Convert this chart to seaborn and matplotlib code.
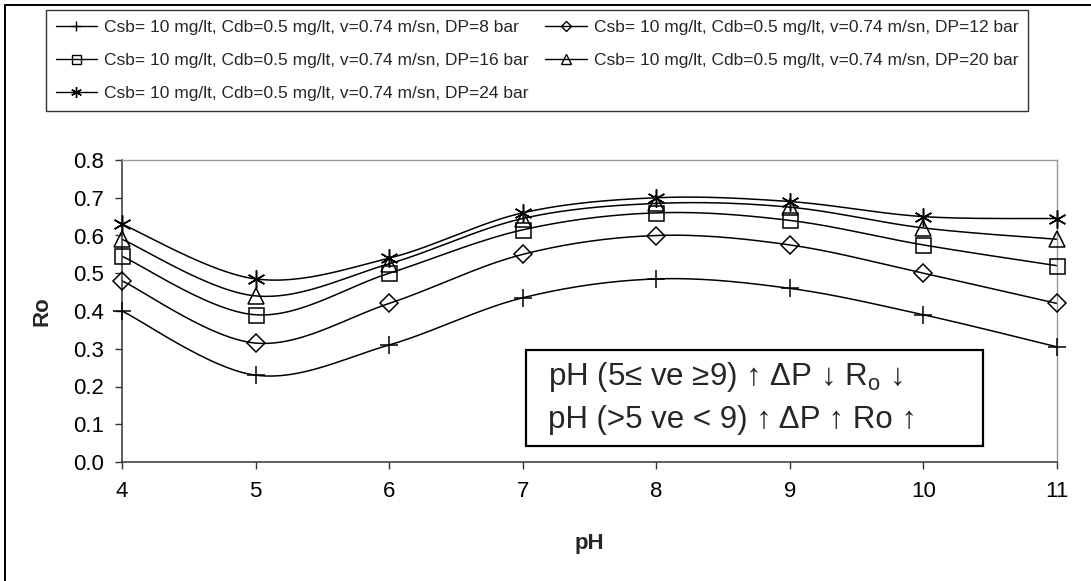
import numpy as np
import matplotlib
matplotlib.use("Agg")
import matplotlib.pyplot as plt
from matplotlib.lines import Line2D
from matplotlib.patches import Rectangle
import seaborn as sns

# pH values on the x axis
ph = [4, 5, 6, 7, 8, 9, 10, 11]

# Rejection ratio Ro for each pressure difference
ro_dp8 = [0.40, 0.23, 0.31, 0.435, 0.485, 0.46, 0.39, 0.305]
ro_dp12 = [0.48, 0.315, 0.42, 0.55, 0.60, 0.575, 0.50, 0.42]
ro_dp16 = [0.545, 0.39, 0.50, 0.615, 0.66, 0.64, 0.575, 0.52]
ro_dp20 = [0.59, 0.44, 0.525, 0.645, 0.685, 0.675, 0.62, 0.59]
ro_dp24 = [0.63, 0.485, 0.54, 0.66, 0.70, 0.69, 0.65, 0.645]

series_labels = [
    "Csb= 10 mg/lt, Cdb=0.5 mg/lt, v=0.74 m/sn, DP=8 bar",
    "Csb= 10 mg/lt, Cdb=0.5 mg/lt, v=0.74 m/sn, DP=12 bar",
    "Csb= 10 mg/lt, Cdb=0.5 mg/lt, v=0.74 m/sn, DP=16 bar",
    "Csb= 10 mg/lt, Cdb=0.5 mg/lt, v=0.74 m/sn, DP=20 bar",
    "Csb= 10 mg/lt, Cdb=0.5 mg/lt, v=0.74 m/sn, DP=24 bar",
]
series_values = [ro_dp8, ro_dp12, ro_dp16, ro_dp20, ro_dp24]

x_label = "pH"
y_label = "Ro"
note_line1 = "pH (5\u2264 ve \u22659) \u2191 \u0394P \u2193 R$_\\mathregular{o}$ \u2193"
note_line2 = "pH (>5 ve < 9) \u2191 \u0394P \u2191 Ro \u2191"

# marker style and size (pt) per series
marker_specs = [("+", 13.0), ("D", 9.2), ("s", 10.8), ("^", 11.5), ((6, 2, 0), 13.0)]

sns.set_style("white")
plt.rcParams["font.family"] = ["Liberation Sans", "DejaVu Sans"]
plt.rcParams["mathtext.fontset"] = "custom"
plt.rcParams["mathtext.rm"] = "Liberation Sans"


def smooth_curve(x, y, n=30):
    """Cubic Bezier smoothing through every point (spreadsheet-style smoothed line)."""
    pts = np.column_stack([x, y]).astype(float)
    P = np.vstack([pts[0], pts, pts[-1]])
    out = []
    t = np.linspace(0, 1, n)[:, None]
    for i in range(1, len(P) - 2):
        p0, p1, p2, p3 = P[i - 1], P[i], P[i + 1], P[i + 2]
        c1 = p1 + (p2 - p0) / 6.0
        c2 = p2 - (p3 - p1) / 6.0
        seg = (1 - t) ** 3 * p1 + 3 * (1 - t) ** 2 * t * c1 + 3 * (1 - t) * t ** 2 * c2 + t ** 3 * p2
        out.append(seg if i == 1 else seg[1:])
    return np.vstack(out)


W, H = 1091, 581
fig = plt.figure(figsize=(W / 100, H / 100), dpi=100)
ax = fig.add_axes([122 / W, 1 - 462 / H, (1057 - 122) / W, (462 - 160) / H])

line_w = 1.1
for vals, (mk, ms) in zip(series_values, marker_specs):
    curve = smooth_curve(ph, vals)
    sns.lineplot(x=curve[:, 0], y=curve[:, 1], sort=False, estimator=None,
                 color="black", linewidth=line_w, ax=ax, legend=False)
    sns.lineplot(x=ph, y=vals, sort=False, estimator=None, color="black",
                 linestyle="", marker=mk, markersize=ms, markerfacecolor="none",
                 markeredgecolor="black", markeredgewidth=1.1, ax=ax,
                 legend=False, clip_on=False, zorder=4)

ax.set_xlim(4, 11)
ax.set_ylim(0, 0.8)
ax.set_xticks(ph)
ax.set_yticks(np.arange(0, 0.81, 0.1))
ax.set_yticklabels([f"{v:.1f}" for v in np.arange(0, 0.81, 0.1)])
ax.tick_params(axis="both", direction="out", length=5, width=1.0, color="#333333",
               labelsize=16, labelcolor="black", left=True, bottom=True)
ax.tick_params(axis="x", pad=9)
ax.tick_params(axis="y", pad=8)

for side in ["left", "bottom"]:
    ax.spines[side].set_color("#333333")
    ax.spines[side].set_linewidth(1.1)
for side in ["top", "right"]:
    ax.spines[side].set_color("#999999")
    ax.spines[side].set_linewidth(1.0)

ax.set_xlabel(x_label, fontsize=16, fontweight="bold", labelpad=22)
ax.set_ylabel(y_label, fontsize=16, fontweight="bold", labelpad=15)

# annotation box
ax.add_patch(Rectangle((0.4321, 0.053), 0.9209 - 0.4321, 0.3709 - 0.053,
                       transform=ax.transAxes, fill=False, edgecolor="black",
                       linewidth=1.6, zorder=5))
ax.text(0.4556, 0.2815, note_line1, transform=ax.transAxes, fontsize=22.5,
        va="center", ha="left", zorder=6)
ax.text(0.4556, 0.139, note_line2, transform=ax.transAxes, fontsize=22.5,
        va="center", ha="left", zorder=6)

# legend, filled row by row (two columns)
handles = []
for (mk, ms) in marker_specs:
    handles.append(Line2D([], [], color="black", linewidth=1.0, marker=mk,
                          markersize=ms * 0.6, markerfacecolor="none",
                          markeredgecolor="black", markeredgewidth=1.0))
order = [0, 2, 4, 1, 3]
leg = fig.legend([handles[i] for i in order], [series_labels[i] for i in order],
                 ncol=2, loc="upper left",
                 bbox_to_anchor=(46 / W, 1 - 10 / H, (1028 - 46) / W, 0.0),
                 bbox_transform=fig.transFigure, mode="expand", borderaxespad=0,
                 fontsize=12.5, frameon=True, fancybox=False, edgecolor="black",
                 handlelength=2.4, handletextpad=0.4, labelspacing=1.05,
                 borderpad=0.55, columnspacing=0.6)
leg.get_frame().set_linewidth(1.0)

# outer chart frame
fig.patches.append(Rectangle((5 / W, -0.1), 1.2, 1 - 5 / H + 0.1,
                             transform=fig.transFigure, fill=False,
                             edgecolor="black", linewidth=1.4))

fig.savefig("out.png", dpi=100)
